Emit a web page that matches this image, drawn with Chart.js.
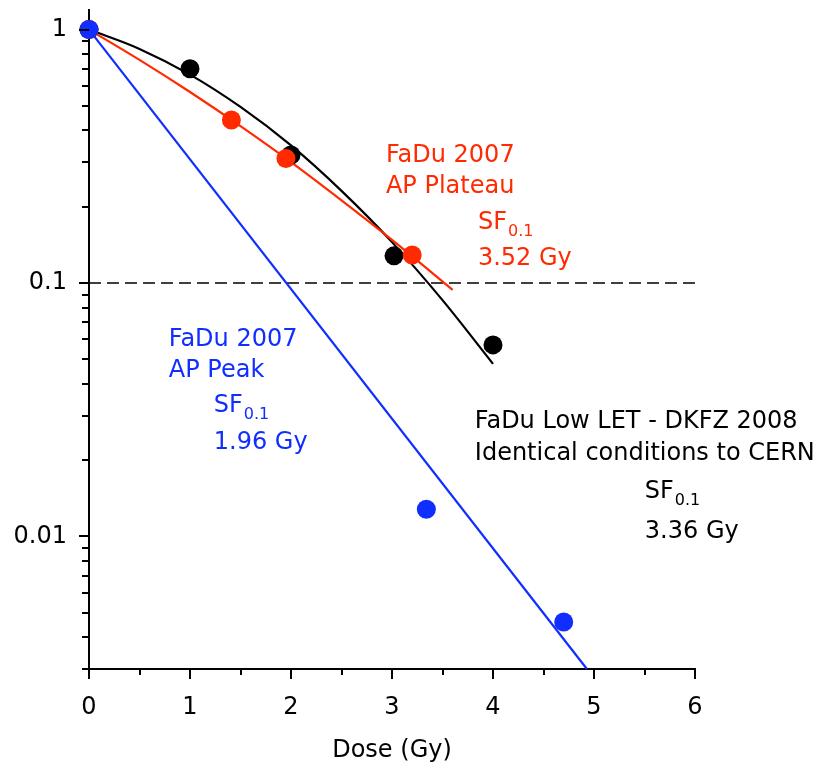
<!DOCTYPE html>
<html>
<head>
<meta charset="utf-8">
<script src="https://cdn.jsdelivr.net/npm/chart.js@4.4.1/dist/chart.umd.min.js"></script>
<style>
    html, body { margin: 0; padding: 0; background: #fff; }
    #wrap { width: 824px; height: 767px; }
</style>
</head>
<body>
<div id="wrap"><canvas id="survival-chart" width="824" height="767"></canvas></div>
<script>
// measured survival points
const blackDose = [0, 1, 2, 3.02, 4];
const blackSF = [1, 0.70, 0.32, 0.128, 0.057];
const redDose = [0, 1.41, 1.95, 3.2];
const redSF = [1, 0.44, 0.31, 0.129];
const blueDose = [0, 3.34, 4.7];
const blueSF = [1, 0.0128, 0.0046];

// fitted curves
const blackFitDose = [0, 0.5, 1, 1.5, 2, 2.5, 3, 3.5, 4];
const blackFitSF = [1, 0.839, 0.664, 0.495, 0.349, 0.231, 0.145, 0.0856, 0.048];
const redFitDose = [0, 0.5, 1, 1.5, 2, 2.5, 3, 3.6];
const redFitSF = [1, 0.759, 0.567, 0.416, 0.300, 0.212, 0.148, 0.094];
const blueFitDose = [0, 4.93];
const blueFitSF = [1, 0.003];

const refDose = [0, 6];
const refSF = [0.1, 0.1];

const xTicks = [0, 1, 2, 3, 4, 5, 6];
const yTicks = [0.01, 0.1, 1];
const yTickLabels = ["0.01", "0.1", "1"];

const BLACK = "#000000";
const RED = "#ff2a00";
const BLUE = "#0f2eff";
const FONT = "DejaVu Sans, Verdana, sans-serif";

const annotations = [
    { x: 2.94, y: 0.300, color: RED, lines: [
        { dx: 0, dy: 0, text: "FaDu 2007" },
        { dx: 0, dy: 31, text: "AP Plateau" },
        { dx: 92, dy: 67, text: "SF", sub: "0.1" },
        { dx: 92, dy: 103, text: "3.52 Gy" }
    ] },
    { x: 0.79, y: 0.0563, color: BLUE, lines: [
        { dx: 0, dy: 0, text: "FaDu 2007" },
        { dx: 0, dy: 31, text: "AP Peak" },
        { dx: 45, dy: 66, text: "SF", sub: "0.1" },
        { dx: 45, dy: 103, text: "1.96 Gy" }
    ] },
    { x: 3.82, y: 0.0268, color: BLACK, lines: [
        { dx: 0, dy: 0, text: "FaDu Low LET - DKFZ 2008" },
        { dx: 0, dy: 32, text: "Identical conditions to CERN" },
        { dx: 170, dy: 70, text: "SF", sub: "0.1" },
        { dx: 170, dy: 110, text: "3.36 Gy" }
    ] }
];

function toPoints(xs, ys) {
    return xs.map((x, i) => ({ x: x, y: ys[i] }));
}

function pointSet(xs, ys, color, order) {
    return {
        data: toPoints(xs, ys),
        showLine: false,
        pointRadius: 9.5,
        pointHoverRadius: 9.5,
        pointBorderWidth: 0,
        pointBackgroundColor: color,
        clip: false,
        order: order
    };
}

function lineSet(xs, ys, color, order, extra) {
    return Object.assign({
        data: toPoints(xs, ys),
        showLine: true,
        borderColor: color,
        borderWidth: 2.2,
        pointRadius: 0,
        cubicInterpolationMode: "monotone",
        clip: false,
        order: order
    }, extra || {});
}

// minor/major tick marks outside the axes, like the original plot
const axisTicks = {
    id: "axisTicks",
    afterDraw(chart) {
        const ctx = chart.ctx;
        const x = chart.scales.x;
        const y = chart.scales.y;
        const area = chart.chartArea;
        ctx.save();
        ctx.strokeStyle = BLACK;
        ctx.lineWidth = 2;
        ctx.beginPath();
        for (let k = -3; k <= 0; k++) {
            for (let m = 1; m <= 9; m++) {
                const v = m * Math.pow(10, k);
                if (v < y.min - 1e-9 || v > y.max) continue;
                const py = Math.round(y.getPixelForValue(v));
                const len = m === 1 ? 10 : 7;
                ctx.moveTo(area.left - len, py);
                ctx.lineTo(area.left, py);
            }
        }
        for (let d = 0; d <= 6; d += 0.5) {
            const px = Math.round(x.getPixelForValue(d));
            const len = Number.isInteger(d) ? 10 : 6;
            ctx.moveTo(px, area.bottom);
            ctx.lineTo(px, area.bottom + len);
        }
        ctx.stroke();
        ctx.restore();
    }
};

const textLabels = {
    id: "textLabels",
    afterDraw(chart) {
        const ctx = chart.ctx;
        const x = chart.scales.x;
        const y = chart.scales.y;
        ctx.save();
        ctx.textBaseline = "alphabetic";
        ctx.textAlign = "left";
        annotations.forEach(a => {
            const ax = x.getPixelForValue(a.x);
            const ay = y.getPixelForValue(a.y);
            ctx.fillStyle = a.color;
            a.lines.forEach(l => {
                ctx.font = "24px " + FONT;
                ctx.fillText(l.text, ax + l.dx, ay + l.dy);
                if (l.sub) {
                    const w = ctx.measureText(l.text).width;
                    ctx.font = "16px " + FONT;
                    ctx.fillText(l.sub, ax + l.dx + w + 1, ay + l.dy + 7);
                }
            });
        });
        ctx.restore();
    }
};

const ctx = document.getElementById("survival-chart").getContext("2d");

new Chart(ctx, {
    type: "scatter",
    data: {
        datasets: [
            pointSet(blueDose, blueSF, BLUE, 0),
            pointSet(redDose, redSF, RED, 1),
            pointSet(blackDose, blackSF, BLACK, 2),
            lineSet(blueFitDose, blueFitSF, BLUE, 3, { cubicInterpolationMode: "default" }),
            lineSet(redFitDose, redFitSF, RED, 4),
            lineSet(blackFitDose, blackFitSF, BLACK, 5),
            lineSet(refDose, refSF, BLACK, 6, { borderWidth: 1.6, borderDash: [12, 6], cubicInterpolationMode: "default" })
        ]
    },
    options: {
        responsive: false,
        animation: false,
        devicePixelRatio: 1,
        layout: {
            padding: { top: 7, right: 129, left: 0, bottom: 0 }
        },
        plugins: {
            legend: { display: false },
            tooltip: { enabled: false }
        },
        scales: {
            x: {
                type: "linear",
                min: 0,
                max: 6,
                afterBuildTicks: scale => {
                    scale.ticks = xTicks.map(v => ({ value: v }));
                },
                afterFit: scale => {
                    scale.height = 98;
                    scale.paddingLeft = 0;
                    scale.paddingRight = 0;
                },
                ticks: {
                    color: BLACK,
                    padding: 24,
                    font: { family: FONT, size: 24 },
                    callback: value => String(value)
                },
                grid: { display: false, drawTicks: false },
                border: { display: true, color: BLACK, width: 2 },
                title: {
                    display: true,
                    text: "Dose (Gy)",
                    color: BLACK,
                    font: { family: FONT, size: 24 },
                    padding: { top: 0, bottom: 2 }
                }
            },
            y: {
                type: "logarithmic",
                min: 0.003,
                max: 1.2,
                afterBuildTicks: scale => {
                    scale.ticks = yTicks.map(v => ({ value: v, major: true }));
                },
                afterFit: scale => {
                    scale.width = 89;
                    scale.paddingTop = 0;
                    scale.paddingBottom = 0;
                },
                ticks: {
                    color: BLACK,
                    padding: 22,
                    font: { family: FONT, size: 24 },
                    callback: (value) => {
                        const i = yTicks.findIndex(t => Math.abs(t - value) < 1e-9);
                        return i >= 0 ? yTickLabels[i] : "";
                    }
                },
                grid: { display: false, drawTicks: false },
                border: { display: true, color: BLACK, width: 2 }
            }
        }
    },
    plugins: [axisTicks, textLabels]
});
</script>
</body>
</html>
